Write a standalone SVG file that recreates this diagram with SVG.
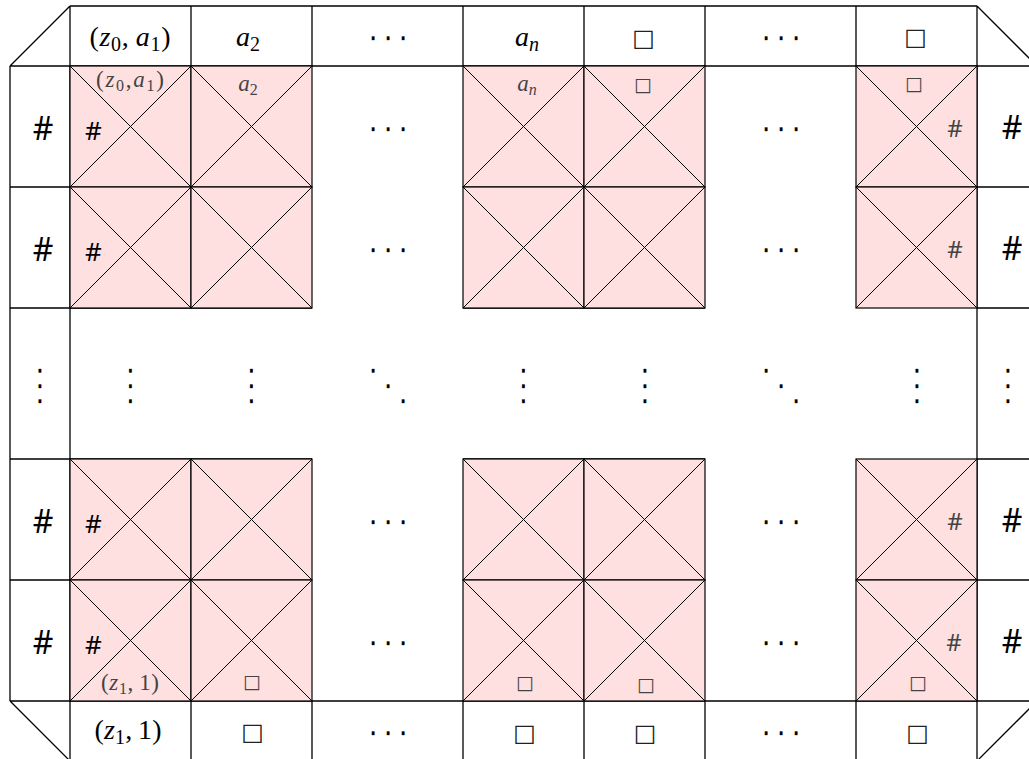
<svg xmlns="http://www.w3.org/2000/svg" xmlns:xlink="http://www.w3.org/1999/xlink" width="1029" height="759" viewBox="0 0 1029 759">
<style>
.g{stroke:#000;stroke-width:1.3;fill:none}
.cr{fill:#ffe0e0;stroke:#000;stroke-width:1.2}
.cd{stroke:#000;stroke-width:1;fill:none}
.m{font-family:"Liberation Serif",serif;font-size:28px;fill:#000;text-anchor:middle}
.s{font-size:23px;fill:#444}
.i{font-style:italic}
.h{font-family:"Noto Sans",sans-serif;text-anchor:middle;fill:#000}
.hb{font-size:32px}
.hc{font-size:26px}
.hg{font-size:24px;fill:#444}
.q{font-family:"DejaVu Sans",sans-serif;text-anchor:middle;dominant-baseline:central;fill:#222}
.qb{font-size:24px;font-weight:bold}
.qs{font-size:19px;fill:#444}
.d{font-family:"DejaVu Sans",sans-serif;font-size:45px;text-anchor:middle;dominant-baseline:central;fill:#000;stroke:#fff;stroke-width:1.6}
</style>
<defs>
<g id="cell"><rect class="cr" width="121" height="121"/><path class="cd" d="M0 0L121 121M121 0L0 121"/></g>
</defs>
<rect width="1029" height="759" fill="#fff"/>
<g id="connectors">
<path class="g" d="M70 6H977M10 66H1029M10 66L70 6M977 6L1037 66M70 6V66M191 6V66M312 6V66M463 6V66M584 6V66M705 6V66M856 6V66M977 6V66"/>
<path class="g" d="M10 66V701M70 66V701M10 187H70M10 308H70M10 459H70M10 580H70"/>
<path class="g" d="M977 66V701M977 187H1029M977 308H1029M977 459H1029M977 580H1029"/>
<path class="g" d="M70 308H312M463 308H705M70 459H312M463 459H705"/>
<path class="g" d="M10 701H1029M70 701V761M191 701V761M312 701V761M463 701V761M584 701V761M705 701V761M856 701V761M977 701V761M10 701L70 761M977 761L1037 701"/>
</g>
<g id="header">
<g id="h1"><text class="m" x="130" y="45.5" textLength="81" lengthAdjust="spacing">(<tspan class="i">z</tspan><tspan font-size="20" dy="5">0</tspan><tspan dy="-5">,&#8201;</tspan><tspan class="i">a</tspan><tspan font-size="20" dy="5">1</tspan><tspan dy="-5">)</tspan></text></g>
<g id="h2"><text class="m" x="248" y="45.5"><tspan class="i">a</tspan><tspan font-size="20" dy="5">2</tspan></text></g>
<g id="h3"><text class="d" x="388" y="36">⋯</text></g>
<g id="h4"><text class="m" x="527" y="45.5"><tspan class="i">a</tspan><tspan class="i" font-size="20" dy="5">n</tspan></text></g>
<g id="h5"><text class="q qb" x="643.5" y="38">□</text></g>
<g id="h6"><text class="d" x="781" y="36">⋯</text></g>
<g id="h7"><text class="q qb" x="915.5" y="37">□</text></g>
</g>
<g id="left">
<g id="l1"><text class="h hb" x="43" y="140">#</text></g>
<g id="l2"><text class="h hb" x="43" y="261">#</text></g>
<g id="l3"><text class="d" x="40" y="384">⋮</text></g>
<g id="l4"><text class="h hb" x="43" y="533">#</text></g>
<g id="l5"><text class="h hb" x="43" y="654">#</text></g>
</g>
<g id="right">
<g id="r1"><text class="h hb" x="1012" y="139">#</text></g>
<g id="r2"><text class="h hb" x="1012" y="260">#</text></g>
<g id="r3"><text class="d" x="1008" y="384">⋮</text></g>
<g id="r4"><text class="h hb" x="1012" y="532">#</text></g>
<g id="r5"><text class="h hb" x="1012" y="653">#</text></g>
</g>
<g id="cells">
<g id="c1a"><use xlink:href="#cell" x="70" y="66"/><text class="m s" x="130" y="87" textLength="68" lengthAdjust="spacing">(<tspan class="i">z</tspan><tspan font-size="16" dy="4">0</tspan><tspan dy="-4">,</tspan><tspan class="i">a</tspan><tspan font-size="16" dy="4">1</tspan><tspan dy="-4">)</tspan></text><text class="h hc" x="93.5" y="140">#</text></g>
<g id="c1b"><use xlink:href="#cell" x="191" y="66"/><text class="m s" x="248" y="90.5"><tspan class="i">a</tspan><tspan font-size="16" dy="4">2</tspan></text></g>
<g id="c1c"><use xlink:href="#cell" x="463" y="66"/><text class="m s" x="527" y="90.5"><tspan class="i">a</tspan><tspan class="i" font-size="16" dy="4">n</tspan></text></g>
<g id="c1d"><use xlink:href="#cell" x="584" y="66"/><text class="q qs" x="643" y="83.5">□</text></g>
<g id="c1e"><use xlink:href="#cell" x="856" y="66"/><text class="q qs" x="914" y="83">□</text><text class="h hg" x="955" y="137">#</text></g>
<g id="c2a"><use xlink:href="#cell" x="70" y="187"/><text class="h hc" x="93.5" y="261">#</text></g>
<g id="c2b"><use xlink:href="#cell" x="191" y="187"/></g>
<g id="c2c"><use xlink:href="#cell" x="463" y="187"/></g>
<g id="c2d"><use xlink:href="#cell" x="584" y="187"/></g>
<g id="c2e"><use xlink:href="#cell" x="856" y="187"/><text class="h hg" x="955" y="258">#</text></g>
<g id="c4a"><use xlink:href="#cell" x="70" y="459"/><text class="h hc" x="93.5" y="533">#</text></g>
<g id="c4b"><use xlink:href="#cell" x="191" y="459"/></g>
<g id="c4c"><use xlink:href="#cell" x="463" y="459"/></g>
<g id="c4d"><use xlink:href="#cell" x="584" y="459"/></g>
<g id="c4e"><use xlink:href="#cell" x="856" y="459"/><text class="h hg" x="955" y="530">#</text></g>
<g id="c5a"><use xlink:href="#cell" x="70" y="580"/><text class="h hc" x="93.5" y="654">#</text><text class="m s" x="130" y="690" textLength="58" lengthAdjust="spacing">(<tspan class="i">z</tspan><tspan font-size="16" dy="4">1</tspan><tspan dy="-4">,&#8201;1)</tspan></text></g>
<g id="c5b"><use xlink:href="#cell" x="191" y="580"/><text class="q qs" x="252" y="680.5">□</text></g>
<g id="c5c"><use xlink:href="#cell" x="463" y="580"/><text class="q qs" x="525" y="682">□</text></g>
<g id="c5d"><use xlink:href="#cell" x="584" y="580"/><text class="q qs" x="646" y="683.5">□</text></g>
<g id="c5e"><use xlink:href="#cell" x="856" y="580"/><text class="q qs" x="918" y="682">□</text><text class="h hg" x="954" y="651">#</text></g>
</g>
<g id="gaps">
<g id="g1a"><text class="d" x="388" y="127">⋯</text></g>
<g id="g1b"><text class="d" x="781" y="127">⋯</text></g>
<g id="g2a"><text class="d" x="388" y="248">⋯</text></g>
<g id="g2b"><text class="d" x="781" y="248">⋯</text></g>
<g id="g4a"><text class="d" x="388" y="520">⋯</text></g>
<g id="g4b"><text class="d" x="781" y="520">⋯</text></g>
<g id="g5a"><text class="d" x="388" y="641">⋯</text></g>
<g id="g5b"><text class="d" x="781" y="641">⋯</text></g>
</g>
<g id="dotsrow">
<text class="d" x="130.5" y="384">⋮</text>
<text class="d" x="251.5" y="384">⋮</text>
<text class="d" x="388" y="384">⋱</text>
<text class="d" x="523.5" y="384">⋮</text>
<text class="d" x="645" y="384">⋮</text>
<text class="d" x="781" y="384">⋱</text>
<text class="d" x="917" y="384">⋮</text>
</g>
<g id="bottom">
<g id="b1"><text class="m" x="128" y="738.5" textLength="67" lengthAdjust="spacing">(<tspan class="i">z</tspan><tspan font-size="20" dy="5">1</tspan><tspan dy="-5">,&#8201;1)</tspan></text></g>
<g id="b2"><text class="q qb" x="252.5" y="731.5">□</text></g>
<g id="b3"><text class="d" x="388" y="731">⋯</text></g>
<g id="b4"><text class="q qb" x="524.5" y="733">□</text></g>
<g id="b5"><text class="q qb" x="645" y="733">□</text></g>
<g id="b6"><text class="d" x="781" y="731">⋯</text></g>
<g id="b7"><text class="q qb" x="917.5" y="733">□</text></g>
</g>
</svg>
